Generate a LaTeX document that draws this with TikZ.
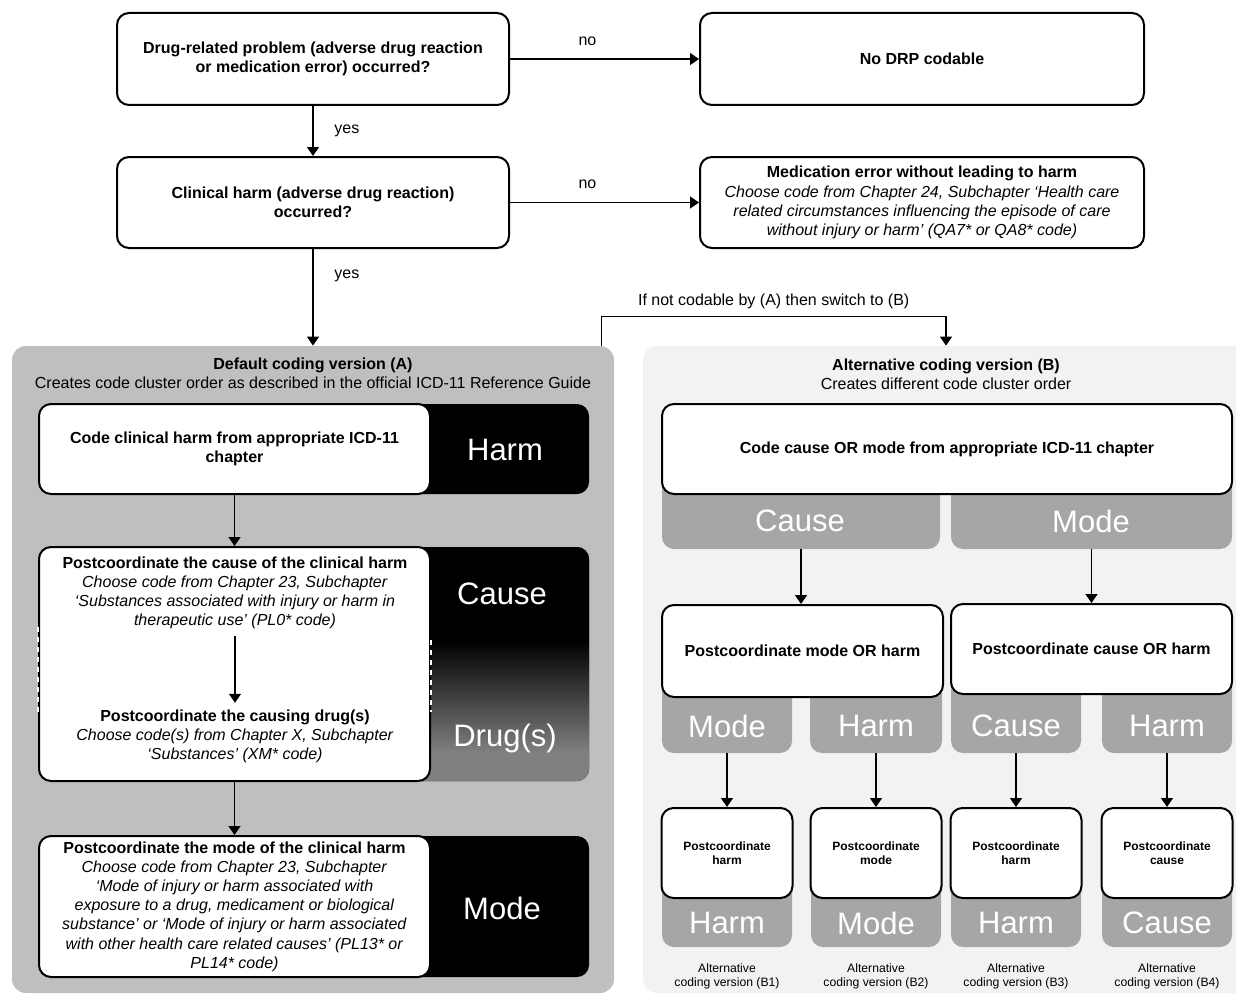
\documentclass[tikz,border=0pt]{standalone}
\usepackage{fontspec}
\setmainfont{Liberation Sans}
\usetikzlibrary{arrows.meta,positioning}

\definecolor{panelA}{HTML}{BFBFBF}
\definecolor{panelB}{HTML}{F2F2F2}
\definecolor{tabgray}{HTML}{A6A6A6}
\definecolor{druggray}{HTML}{808080}

%Verlauf Cause -> Drug(s)
\pgfdeclareverticalshading{causedrug}{100bp}{color(0bp)=(druggray); color(31bp)=(druggray); color(55bp)=(black); color(100bp)=(black)}

\newcommand{\subtxt}[1]{\textmd{\textit{#1}}}

\tikzset{
    box/.style={draw, line width=1pt, rounded corners=6pt, fill=white, align=center, inner sep=2pt, font=\fontsize{8}{9.6}\selectfont\bfseries},
    bar/.style={rounded corners=6pt, fill=black, minimum width=275pt, inner sep=0pt},
    tab/.style={rounded corners=6pt, fill=tabgray, inner sep=0pt},
    panel/.style={rounded corners=7pt, minimum height=323.5pt, inner sep=0pt},
    big/.style={text=white, font=\fontsize{15.5}{18}\selectfont},
    txt/.style={align=center},
    arr/.style={-{Triangle[width=6pt,length=4.5pt]}, line width=0.75pt}
}

\begin{document}
\begin{tikzpicture}[x=0.5pt, y=-0.5pt, font=\fontsize{8}{9.6}\selectfont]
    \useasboundingbox (0,0) rectangle (1236,995);
    \clip (0,0) rectangle (1236,995);

    %Fragen oben
    \node (q1) [box, minimum width=196pt, minimum height=46pt] at (313,59) {Drug-related problem (adverse drug reaction\\or medication error) occurred?};
    \node (nodrp) [box, minimum width=222pt, minimum height=46pt] at (922,59) {No DRP codable};
    \node (q2) [box, minimum width=196pt, minimum height=45.5pt] at (313,202.5) {Clinical harm (adverse drug reaction)\\occurred?};
    \node (mederr) [box, minimum width=222pt, minimum height=45.5pt] at (922,202.5) {Medication error without leading to harm\\\subtxt{Choose code from Chapter 24, Subchapter ‘Health care}\\\subtxt{related circumstances influencing the episode of care}\\\subtxt{without injury or harm’ (QA7* or QA8* code)}};

    %Hintergrund (A) und (B)
    \node (panA) [panel, fill=panelA, minimum width=301pt] at (313,669.5) {};
    \node (panB) [panel, fill=panelB, minimum width=303pt] at (946,669.5) {};
    \node (headA) [txt] at (313,373.5) {\textbf{Default coding version (A)}\\Creates code cluster order as described in the official ICD-11 Reference Guide};
    \node (headB) [txt] at (946,374.5) {\textbf{Alternative coding version (B)}\\Creates different code cluster order};

    %Pfeile oben
    \draw[arr] (q1) -- node[pos=0.41, above=3pt] {no} (nodrp);
    \draw[arr] (q1) -- node[right=7pt] {yes} (q2);
    \draw[arr] (q2) -- node[pos=0.41, above=3pt] {no} (mederr);
    \draw[arr] (q2) -- node[pos=0.28, right=7pt] {yes} (panA);
    \draw[arr] ([xshift=-6.5pt]panA.north east) -- ++(0,-29) -| node[pos=0.25, above] {If not codable by (A) then switch to (B)} (panB.north);

    %Default coding version (A)
    \node (harmBar) [bar, minimum height=45pt] at (314,449) {};
    \node (harmBox) [box, minimum width=195.5pt, minimum height=45pt] at (234.5,449) {Code clinical harm from appropriate ICD-11\\chapter};
    \node[big] at (505,450) {Harm};

    \node (causeBar) [bar, shade, shading=causedrug, minimum height=117pt] at (314,664) {};
    \node (causeBox) [box, minimum width=195.5pt, minimum height=117pt] at (234.5,664) {};
    \draw[white, line width=1pt, dash pattern=on 2.5pt off 2.5pt] (causeBox.west |- 0,627) -- (causeBox.west |- 0,712);
    \draw[white, line width=1pt, dash pattern=on 2.5pt off 2.5pt] (causeBox.east |- 0,640) -- (causeBox.east |- 0,712);
    \node (causeTxt) [txt] at (235,593) {\textbf{Postcoordinate the cause of the clinical harm}\\\textit{Choose code from Chapter 23, Subchapter}\\\textit{‘Substances associated with injury or harm in}\\\textit{therapeutic use’ (PL0* code)}};
    \node (drugTxt) [txt] at (235,736.5) {\textbf{Postcoordinate the causing drug(s)}\\\textit{Choose code(s) from Chapter X, Subchapter}\\\textit{‘Substances’ (XM* code)}};
    \draw[arr] (causeTxt) -- (drugTxt);
    \node[big] at (502,594) {Cause};
    \node[big] at (505,738) {Drug(s)};
    \draw[arr] (harmBox) -- (causeBox);

    \node (modeBar) [bar, minimum height=70.5pt] at (314,906.5) {};
    \node (modeBox) [box, minimum width=195.5pt, minimum height=70.5pt] at (234.5,906.5) {Postcoordinate the mode of the clinical harm\\\subtxt{Choose code from Chapter 23, Subchapter}\\\subtxt{‘Mode of injury or harm associated with}\\\subtxt{exposure to a drug, medicament or biological}\\\subtxt{substance’ or ‘Mode of injury or harm associated}\\\subtxt{with other health care related causes’ (PL13* or}\\\subtxt{PL14* code)}};
    \node[big] at (502,908) {Mode};
    \draw[arr] (causeBox) -- (modeBox);

    %Alternative coding version (B)
    \node (tabC) [tab, minimum width=139pt, minimum height=39.5pt] at (801,509.5) {};
    \node (tabM) [tab, minimum width=140.5pt, minimum height=39.5pt] at (1091.5,509.5) {};
    \node (codeB) [box, minimum width=285pt, minimum height=45pt] at (947,449) {Code cause OR mode from appropriate ICD-11 chapter};
    \node[big] at (800,521) {Cause};
    \node[big] at (1091,521) {Mode};

    \foreach \cx/\w [count=\i] in {727/65, 876/66, 1016/65, 1167/65}
        \node (tabr\i) [tab, minimum width=\w pt, minimum height=46.5pt] at (\cx,706.5) {};
    \node (midL) [box, minimum width=140.5pt, minimum height=46pt] at (802.5,651) {Postcoordinate mode OR harm};
    \node (midR) [box, minimum width=140.5pt, minimum height=45pt] at (1091.5,649) {Postcoordinate cause OR harm};
    \draw[arr] (tabC) -- (tabC |- midL.north);
    \draw[arr] (tabM) -- (tabM |- midR.north);

    \foreach \cx/\a/\b/\c [count=\i] in {727/Mode/harm/Harm, 876/Harm/mode/Mode, 1016/Cause/harm/Harm, 1167/Harm/cause/Cause} {
        \node[big] at (\cx,726) {\a};
        \node (tabs\i) [tab, minimum width=65pt, minimum height=43.5pt] at (\cx,903.5) {};
        \node (alt\i) [box, minimum width=65.5pt, minimum height=45pt, font=\fontsize{6}{7.2}\selectfont\bfseries] at (\cx,853) {Postcoordinate\\\b};
        \node[big] at (\cx,923) {\c};
        \draw[arr] (tabr\i) -- (alt\i);
        \node (cap\i) [txt, font=\fontsize{6.1}{7.3}\selectfont] at (\cx,976.5) {Alternative\\coding version (B\i)};
    }
\end{tikzpicture}
\end{document}
